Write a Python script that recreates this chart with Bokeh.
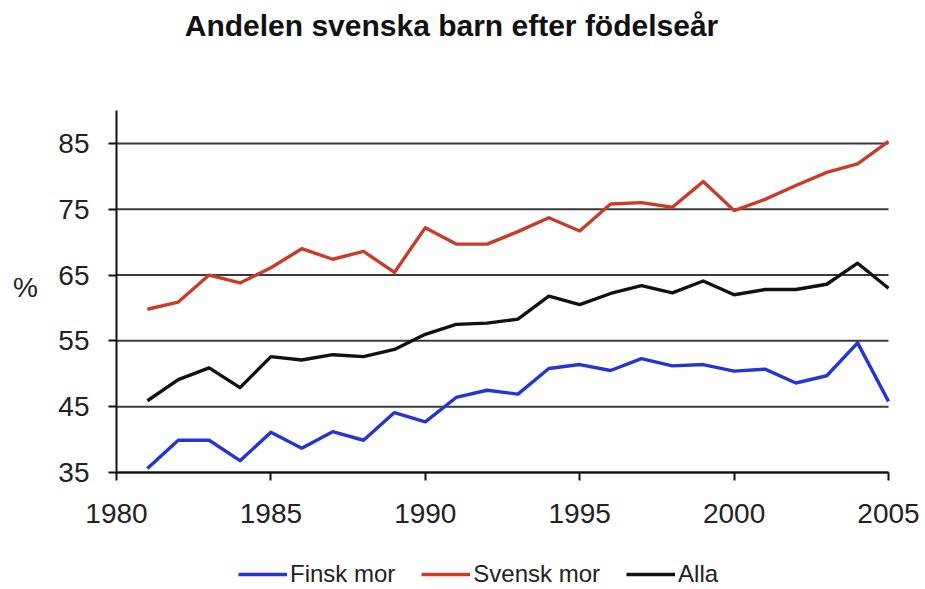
from bokeh.plotting import figure
from bokeh.models import FixedTicker, Range1d, Legend, LegendItem, Label
from bokeh.embed import file_html
from bokeh.resources import INLINE

# ---- data ----
years = list(range(1981, 2006))
finsk_mor = [35.6, 39.9, 39.9, 36.8, 41.1, 38.7, 41.2, 39.9, 44.1, 42.7,
             46.4, 47.5, 46.9, 50.8, 51.4, 50.5, 52.3, 51.2, 51.4, 50.4,
             50.7, 48.6, 49.7, 54.7, 45.8]
svensk_mor = [59.8, 60.9, 65.0, 63.8, 66.1, 69.0, 67.4, 68.6, 65.4, 72.2,
              69.7, 69.7, 71.6, 73.7, 71.7, 75.8, 76.0, 75.3, 79.2, 74.8,
              76.5, 78.6, 80.6, 81.9, 85.3]
alla = [45.9, 49.1, 50.9, 47.9, 52.6, 52.1, 52.9, 52.6, 53.7, 56.0,
        57.5, 57.7, 58.3, 61.8, 60.5, 62.2, 63.4, 62.3, 64.1, 62.0,
        62.8, 62.8, 63.6, 66.8, 63.0]
x_ticks = [1980, 1985, 1990, 1995, 2000, 2005]
y_ticks = [35, 45, 55, 65, 75, 85]
y_top = 90
series_names = ["Finsk mor", "Svensk mor", "Alla"]
title_text = "Andelen svenska barn efter födelseår"
y_label = "%"

FONT = "Liberation Sans"
colors = ["#2535d4", "#c83c28", "#111111"]

# ---- layout (pixels): the plot area spans the whole canvas; axes are pinned ----
W, H = 924, 588
PX_L, PX_R, PX_T, PX_B = 116, 888, 110, 472      # where x_ticks[0]/x_ticks[-1] and y_top/y_ticks[0] sit
sx = (PX_R - PX_L) / (x_ticks[-1] - x_ticks[0])
sy = (PX_B - PX_T) / (y_top - y_ticks[0])
x_range = Range1d(x_ticks[0] - PX_L / sx, x_ticks[-1] + (W - PX_R) / sx)
y_range = Range1d(y_ticks[0] - (H - PX_B) / sy, y_top + PX_T / sy)

def dx(px):
    return x_ticks[0] + (px - PX_L) / sx

def dy(px):
    return y_top - (px - PX_T) / sy

p = figure(width=W, height=H, output_backend="svg", toolbar_location=None,
           x_range=x_range, y_range=y_range,
           min_border_left=0, min_border_right=0, min_border_top=0, min_border_bottom=0)
p.outline_line_color = None
p.background_fill_color = "white"
p.border_fill_color = "white"
p.xgrid.grid_line_color = None
p.ygrid.grid_line_color = None

# axes pinned to the data corner
p.xaxis.fixed_location = y_ticks[0]
p.xaxis.bounds = (x_ticks[0], x_ticks[-1])
p.yaxis.fixed_location = x_ticks[0]
p.yaxis.bounds = (y_ticks[0], y_top)
p.xaxis.ticker = FixedTicker(ticks=x_ticks)
p.yaxis.ticker = FixedTicker(ticks=y_ticks)
for ax in (p.xaxis[0], p.yaxis[0]):
    ax.axis_line_color = "#111111"
    ax.axis_line_width = 2
    ax.major_tick_line_color = "#111111"
    ax.major_tick_line_width = 2
    ax.major_tick_in = 0
    ax.major_tick_out = 8
    ax.minor_tick_line_color = None
    ax.major_label_text_font = FONT
    ax.major_label_text_font_size = "28px"
    ax.major_label_text_color = "#222222"
p.yaxis.major_label_standoff = 19
p.xaxis.major_label_standoff = 23

# horizontal grid lines at the y ticks, between the first and last x tick
p.segment(x0=[x_ticks[0]] * len(y_ticks), x1=[x_ticks[-1]] * len(y_ticks),
          y0=y_ticks, y1=y_ticks, line_color="#3a3a3a", line_width=2)

# series lines
renderers = []
for vals, col in zip([finsk_mor, svensk_mor, alla], colors):
    r = p.line(years, vals, line_color=col, line_width=3.4, line_join="round")
    renderers.append(r)

legend = Legend(items=[LegendItem(label=n, renderers=[r]) for n, r in zip(series_names, renderers)],
                orientation="horizontal", location=(238, 0))
legend.glyph_width = 49
legend.label_standoff = 3
legend.spacing = 26
legend.padding = 0
legend.margin = 0
legend.label_text_font = FONT
legend.label_text_font_size = "24px"
legend.label_text_color = "#222222"
legend.background_fill_alpha = 0
legend.border_line_color = None
p.add_layout(legend, "center")

# title and unit label
p.add_layout(Label(x=dx(451), y=dy(25), text=title_text, text_align="center",
                   text_baseline="alphabetic", text_font=FONT, text_font_size="30px",
                   text_font_style="bold", text_color="#111111"))
p.add_layout(Label(x=dx(25), y=dy(287), text=y_label, text_align="center",
                   text_baseline="middle", text_font=FONT, text_font_size="28px",
                   text_color="#222222"))

open("out.html", "w").write(file_html(p, INLINE))
